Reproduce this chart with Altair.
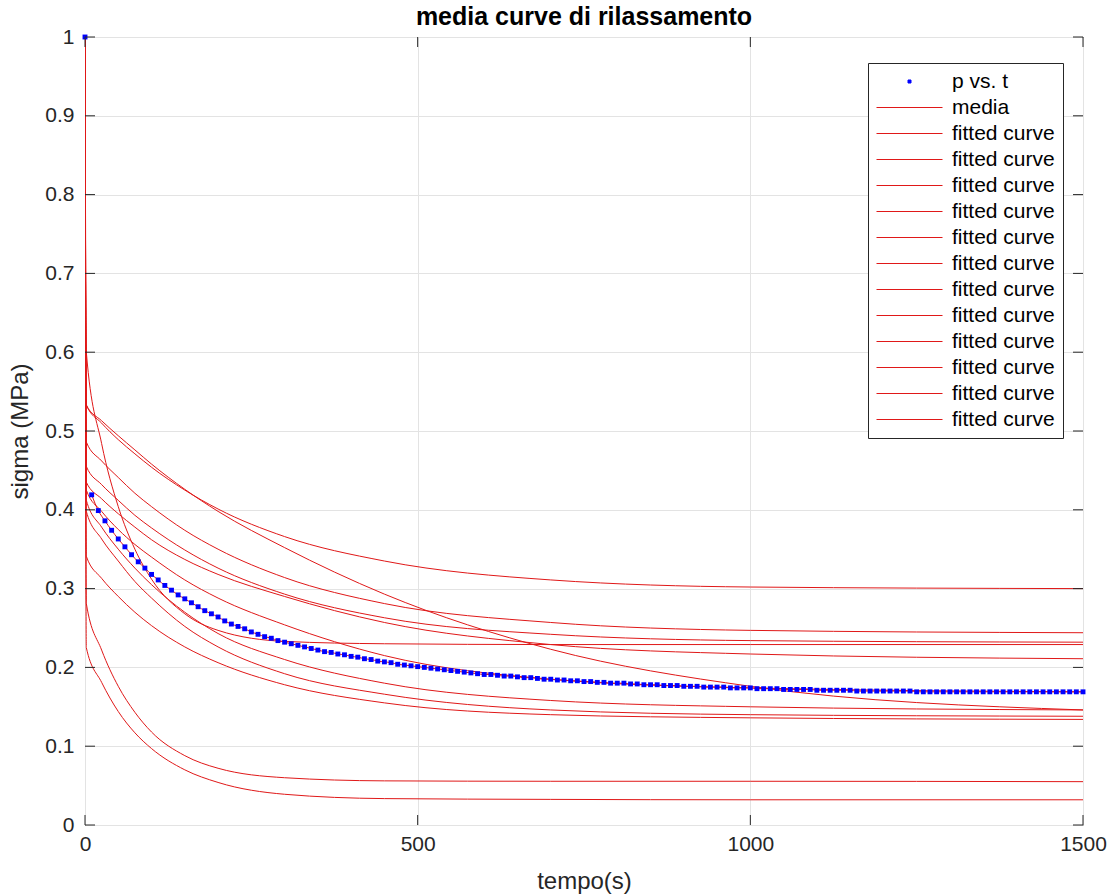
import altair as alt
import pandas as pd

W, H = 998, 788
FONT = "Liberation Sans"

# ---- measured mean data (p vs. t), one point every 10 s ----
dot_t = list(range(0, 1501, 10))
dot_v = [1.0, 0.419, 0.399, 0.386, 0.374, 0.363, 0.353, 0.343, 0.334, 0.326,
         0.318, 0.311, 0.304, 0.298, 0.292, 0.287, 0.282, 0.277, 0.272, 0.268,
         0.264, 0.259, 0.255, 0.252, 0.249, 0.245, 0.242, 0.239, 0.237, 0.234,
         0.232, 0.230, 0.228, 0.226, 0.224, 0.222, 0.220, 0.219, 0.217, 0.216,
         0.214, 0.213, 0.211, 0.210, 0.208, 0.207, 0.206, 0.204, 0.203, 0.202,
         0.201, 0.200, 0.199, 0.198, 0.197, 0.196, 0.195, 0.194, 0.193, 0.192,
         0.191, 0.191, 0.190, 0.189, 0.189, 0.188, 0.187, 0.187, 0.186, 0.185,
         0.185, 0.184, 0.184, 0.183, 0.183, 0.182, 0.182, 0.181, 0.181, 0.180,
         0.180, 0.180, 0.179, 0.179, 0.178, 0.178, 0.178, 0.177, 0.177, 0.177,
         0.176, 0.176, 0.176, 0.175, 0.175, 0.175, 0.175, 0.174, 0.174, 0.174,
         0.174, 0.173, 0.173, 0.173, 0.173, 0.172, 0.172, 0.172, 0.172, 0.172,
         0.171, 0.171, 0.171, 0.171, 0.171, 0.171, 0.170, 0.170, 0.170, 0.170,
         0.170, 0.170, 0.170, 0.170, 0.170, 0.169, 0.169, 0.169, 0.169, 0.169,
         0.169, 0.169, 0.169, 0.169, 0.169, 0.169, 0.169, 0.169, 0.169, 0.169,
         0.169, 0.169, 0.169, 0.169, 0.169, 0.169, 0.169, 0.169, 0.169, 0.169,
         0.169]

# ---- fitted curves, read at these times ----
curve_t = [0, 2, 25, 50, 75, 100, 150, 200, 300, 450, 700, 1000, 1500]
fit_01 = [1.0, 0.533, 0.510, 0.489, 0.471, 0.454, 0.425, 0.401, 0.366, 0.335, 0.311, 0.302, 0.300]
fit_02 = [1.0, 0.533, 0.513, 0.494, 0.476, 0.458, 0.426, 0.398, 0.352, 0.293, 0.223, 0.176, 0.146]
fit_03 = [1.0, 0.600, 0.484, 0.404, 0.350, 0.312, 0.268, 0.247, 0.233, 0.230, 0.229, 0.229, 0.229]
fit_04 = [1.0, 0.486, 0.462, 0.441, 0.421, 0.404, 0.374, 0.350, 0.314, 0.281, 0.257, 0.247, 0.244]
fit_05 = [1.0, 0.455, 0.432, 0.412, 0.393, 0.377, 0.349, 0.326, 0.293, 0.263, 0.242, 0.234, 0.232]
fit_06 = [1.0, 0.435, 0.414, 0.395, 0.378, 0.362, 0.337, 0.318, 0.290, 0.257, 0.229, 0.217, 0.211]
fit_07 = [1.0, 0.425, 0.398, 0.375, 0.356, 0.340, 0.311, 0.288, 0.254, 0.215, 0.185, 0.174, 0.169]
fit_08 = [1.0, 0.412, 0.378, 0.350, 0.326, 0.305, 0.270, 0.243, 0.210, 0.180, 0.158, 0.150, 0.146]
fit_09 = [1.0, 0.398, 0.363, 0.335, 0.309, 0.288, 0.252, 0.226, 0.192, 0.166, 0.146, 0.140, 0.138]
fit_10 = [1.0, 0.341, 0.313, 0.290, 0.270, 0.253, 0.226, 0.206, 0.178, 0.155, 0.140, 0.136, 0.134]
fit_11 = [1.0, 0.281, 0.222, 0.176, 0.143, 0.118, 0.088, 0.072, 0.060, 0.056, 0.0555, 0.0555, 0.055]
fit_12 = [1.0, 0.225, 0.181, 0.144, 0.117, 0.097, 0.070, 0.054, 0.039, 0.0335, 0.0325, 0.032, 0.032]
fits = [fit_01, fit_02, fit_03, fit_04, fit_05, fit_06,
        fit_07, fit_08, fit_09, fit_10, fit_11, fit_12]

x_ticks = [0, 500, 1000, 1500]
y_ticks = [0, 0.1, 0.2, 0.3, 0.4, 0.5, 0.6, 0.7, 0.8, 0.9, 1.0]

series_names = ["p vs. t", "media"] + [f"fitted curve {i + 1}" for i in range(len(fits))]
series_colors = ["#0000ff"] + ["#e01818"] * (len(series_names) - 1)

LINE_PATH = "M-2,0H11.2"
SQUARE_PATH = "M4.3,-0.3H4.9V0.3H4.3Z"
series_shapes = [SQUARE_PATH] + [LINE_PATH] * (len(series_names) - 1)

rows = []
for t, v in zip(dot_t[1:], dot_v[1:]):
    rows.append({"t": t, "v": v, "series": "media"})
for i, vals in enumerate(fits):
    for t, v in zip(curve_t, vals):
        rows.append({"t": t, "v": v, "series": f"fitted curve {i + 1}"})
lines_df = pd.DataFrame(rows)
dots_df = pd.DataFrame({"t": dot_t, "v": dot_v, "series": "p vs. t"})
legend_df = pd.DataFrame({"t": [0] * len(series_names), "v": [1.0] * len(series_names),
                          "series": series_names})

xs = alt.Scale(domain=[0, 1500], nice=False, zero=False)
ys = alt.Scale(domain=[0, 1], nice=False, zero=False)
cs = alt.Scale(domain=series_names, range=series_colors)
ss = alt.Scale(domain=series_names, range=series_shapes)

legend = alt.Legend(
    title=None, orient="none", legendX=783, legendY=26,
    symbolSize=100, symbolStrokeWidth=1,
    labelFont=FONT, labelFontSize=21, labelColor="#000000", labelLimit=0,
    labelOffset=55, rowPadding=4, padding=8,
    strokeColor="#262626", fillColor="#ffffff", cornerRadius=0,
    labelExpr="indexof(datum.label, 'fitted curve') === 0 ? 'fitted curve' : datum.label",
)

x_axis = alt.Axis(values=x_ticks, format="d", labelFlush=False, title="tempo(s)",
                  grid=True, gridColor="#e3e3e3", domain=False, ticks=False,
                  labelFont=FONT, labelFontSize=21, labelColor="#262626", labelPadding=8,
                  titleFont=FONT, titleFontSize=24, titleFontWeight="normal",
                  titleColor="#262626", titlePadding=15)
y_axis = alt.Axis(values=y_ticks, format="~g", labelFlush=False, title="sigma (MPa)",
                  grid=True, gridColor="#e3e3e3", domain=False, ticks=False,
                  labelFont=FONT, labelFontSize=21, labelColor="#262626", labelPadding=11,
                  titleFont=FONT, titleFontSize=24, titleFontWeight="normal",
                  titleColor="#262626", titlePadding=12)


def X():
    return alt.X("t:Q", scale=xs, axis=x_axis)


def Y():
    return alt.Y("v:Q", scale=ys, axis=y_axis)


def C():
    return alt.Color("series:N", scale=cs, legend=legend)


lines = alt.Chart(lines_df).mark_line(strokeWidth=1, interpolate="monotone", clip=True).encode(
    x=X(), y=Y(), color=C())

dots = alt.Chart(dots_df).mark_square(size=24, opacity=1).encode(
    x=X(), y=Y(), color=C())

legend_layer = alt.Chart(legend_df).mark_point(size=0, filled=False, strokeWidth=0).encode(
    x=X(), y=Y(), color=C(),
    shape=alt.Shape("series:N", scale=ss, legend=legend),
)

TL = 10
TC = "#262626"
ytk = pd.DataFrame({"v": y_ticks})
xtk = pd.DataFrame({"t": x_ticks})
left_ticks = alt.Chart(ytk).mark_rule(color=TC, strokeWidth=1).encode(
    y=Y(), x=alt.value(0), x2=alt.value(TL))
right_ticks = alt.Chart(ytk).mark_rule(color=TC, strokeWidth=1).encode(
    y=Y(), x=alt.value(W), x2=alt.value(W - TL))
bottom_ticks = alt.Chart(xtk).mark_rule(color=TC, strokeWidth=1).encode(
    x=X(), y=alt.value(H), y2=alt.value(H - TL))
top_ticks = alt.Chart(xtk).mark_rule(color=TC, strokeWidth=1).encode(
    x=X(), y=alt.value(0), y2=alt.value(TL))

chart = alt.layer(lines, dots, legend_layer, left_ticks, right_ticks, bottom_ticks, top_ticks).properties(
    width=W, height=H,
    title=alt.Title("media curve di rilassamento", font=FONT, fontSize=25,
                    fontWeight="bold", color="#000000", offset=5, dy=9, anchor="middle"),
    autosize=alt.AutoSizeParams(type="none"),
    padding={"left": 85, "top": 37, "right": 31, "bottom": 70},
    background="#ffffff",
).configure_view(stroke="#262626", strokeWidth=1)

chart.save("out.html", embed_options={"renderer": "svg", "actions": False})
